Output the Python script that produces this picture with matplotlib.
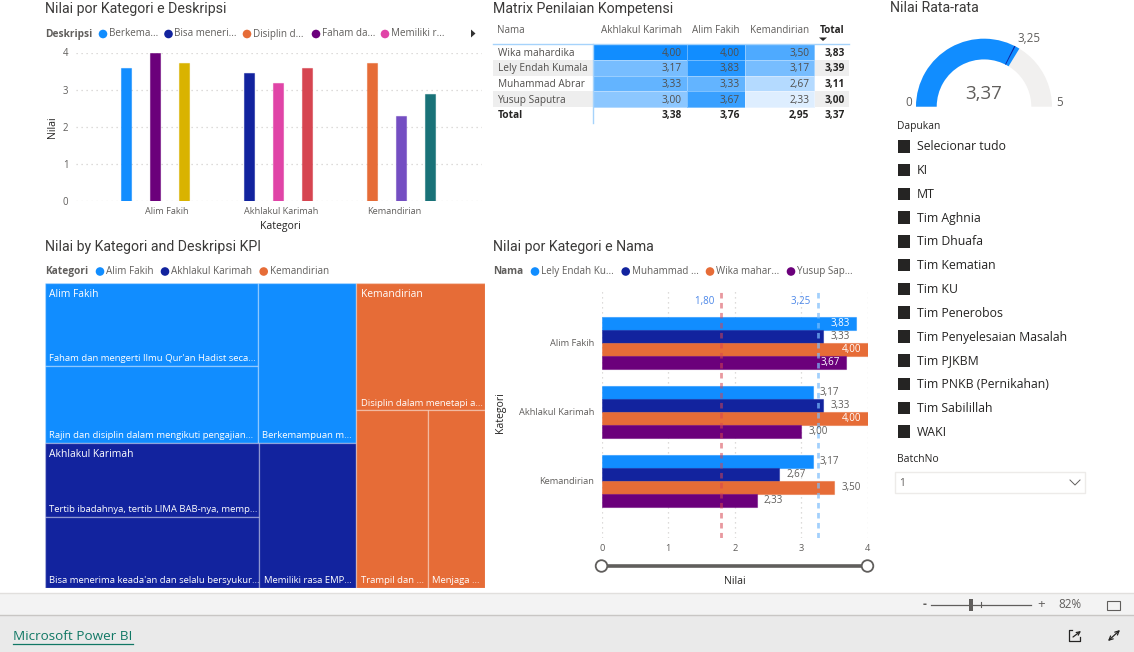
#! /usr/bin/env python3

import matplotlib
matplotlib.use("Agg")
import matplotlib.pyplot as plt
from matplotlib.colors import LinearSegmentedColormap, Normalize, to_rgba
from matplotlib.patches import Circle, Rectangle, Wedge

W, H = 1134, 652

BLUE, NAVY, ORANGE, PURPLE = "#118DFF", "#12239E", "#E66C37", "#6B007B"
DARK, GREY = "#252423", "#605E5C"

# first chart, one series per description inside each category
kategori = ["Alim Fakih", "Akhlakul Karimah", "Kemandirian"]
nilai_alim = [3.58, 4.00, 3.72]
nilai_akhlak = [3.44, 3.17, 3.58]
nilai_kemandirian = [3.72, 2.30, 2.87]
warna_alim = [BLUE, PURPLE, "#D9B300"]
warna_akhlak = [NAVY, "#E044A7", "#D64550"]
warna_kemandirian = [ORANGE, "#744EC2", "#197278"]
legend_deskripsi = ["Berkema...", "Bisa meneri...", "Disiplin d...", "Faham da...", "Memiliki r..."]
warna_legend = [BLUE, NAVY, ORANGE, PURPLE, "#E044A7"]

# matrix
nama_matrix = ["Wika mahardika", "Lely Endah Kumala", "Muhammad Abrar", "Yusup Saputra"]
kolom_matrix = ["Akhlakul Karimah", "Alim Fakih", "Kemandirian"]
nilai_matrix = [[4.00, 4.00, 3.50],
                [3.17, 3.83, 3.17],
                [3.33, 3.33, 2.67],
                [3.00, 3.67, 2.33]]
total_baris = [3.83, 3.39, 3.11, 3.00]
total_kolom = [3.38, 3.76, 2.95, 3.37]

# gauge
gauge_nilai = 3.37
gauge_target = 3.25
gauge_max = 5

# slicers
dapukan = ["Selecionar tudo", "KI", "MT", "Tim Aghnia", "Tim Dhuafa", "Tim Kematian", "Tim KU",
           "Tim Penerobos", "Tim Penyelesaian Masalah", "Tim PJKBM", "Tim PNKB (Pernikahan)",
           "Tim Sabilillah", "WAKI"]

# treemap tiles: (left column top, left column bottom, right column)
tile_alim = [4.00, 3.72, 3.58]
label_alim = ["Faham dan mengerti Ilmu Qur'an Hadist seca...",
              "Rajin dan disiplin dalam mengikuti pengajian...", "Berkemampuan m..."]
tile_akhlak = [3.58, 3.44, 3.17]
label_akhlak = ["Tertib ibadahnya, tertib LIMA BAB-nya, memp...",
                "Bisa menerima keada'an dan selalu bersyukur...", "Memiliki rasa EMP..."]
tile_kemandirian = [3.72, 2.87, 2.30]
label_kemandirian = ["Disiplin dalam menetapi a...", "Trampil dan ...", "Menjaga ..."]

# clustered bars by person
nama_bar = ["Lely Endah Ku...", "Muhammad ...", "Wika mahar...", "Yusup Sap..."]
warna_bar = [BLUE, NAVY, ORANGE, PURPLE]
bar_lely = [3.83, 3.17, 3.17]
bar_abrar = [3.33, 3.33, 2.67]
bar_wika = [4.00, 4.00, 3.50]
bar_yusup = [3.67, 3.00, 2.33]
ref_merah = 1.80
ref_biru = 3.25

plt.rcParams["font.family"] = ["Open Sans", "DejaVu Sans"]


def koma(v):
    return f"{v:.2f}".replace(".", ",")


def px_axes(x0, y0, x1, y1):
    ax = fig.add_axes([x0 / W, 1 - y1 / H, (x1 - x0) / W, (y1 - y0) / H])
    ax.patch.set_alpha(0)
    for s in ax.spines.values():
        s.set_visible(False)
    return ax


def judul(x, y, s):
    bg.text(x, y, s, fontsize=10.2, color="#3B3A39", family="Roboto", va="center")


def legenda(x, y, head, dots, teks, warna):
    bg.text(x, y, head, fontsize=7.3, fontweight="bold", color=GREY, va="center")
    for d, t, c in zip(dots, teks, warna):
        bg.add_patch(Circle((d, y), 4.3, color=c, lw=0))
        bg.text(d + 6, y, t, fontsize=7.1, color=GREY, va="center")


fig = plt.figure(figsize=(W / 100, H / 100), dpi=100)
bg = fig.add_axes([0, 0, 1, 1])
bg.set_xlim(0, W)
bg.set_ylim(H, 0)
bg.axis("off")

judul(45, 8.5, "Nilai por Kategori e Deskripsi")
judul(493, 8.5, "Matrix Penilaian Kompetensi")
judul(890, 8.5, "Nilai Rata-rata")
judul(45, 246.5, "Nilai by Kategori and Deskripsi KPI")
judul(493, 246.5, "Nilai por Kategori e Nama")

legenda(45, 34, "Deskripsi", [103, 168.5, 247, 316, 385], legend_deskripsi, warna_legend)
bg.fill([471, 471, 475.5], [29.5, 37.5, 33.5], color="#333333", lw=0)
legenda(45, 271.5, "Kategori", [100, 165, 263.7], kategori, warna_bar)
legenda(493, 271.5, "Nama", [535, 625.7, 710, 791], nama_bar, warna_bar)

# top-left clustered column chart
ax1 = px_axes(76, 52.5, 482, 201)
ax1.set_xlim((76 - 155) / 123, (482 - 155) / 123)
ax1.set_ylim(0, 4)
for i, (vals, cols) in enumerate(zip([nilai_alim, nilai_akhlak, nilai_kemandirian],
                                     [warna_alim, warna_akhlak, warna_kemandirian])):
    for j, (v, c) in enumerate(zip(vals, cols)):
        ax1.bar(i + (j - 1) * 0.2345, v, width=0.08, color=c, zorder=3,
                edgecolor=to_rgba(c, 0.55), linewidth=0.8)
ax1.set_yticks([0, 1, 2, 3, 4])
ax1.set_xticks([0.098, 1.024, 1.943], kategori)
ax1.tick_params(length=0, labelsize=6.6, labelcolor=GREY)
ax1.tick_params(axis="y", pad=5.5, labelsize=6.9)
ax1.tick_params(axis="x", pad=4.5)
ax1.yaxis.grid(True, color="#D2D0CE", linestyle=(0, (1, 3)), linewidth=0.9)
ax1.set_axisbelow(True)
bg.text(52, 127, "Nilai", rotation=90, fontsize=7.6, color=DARK, ha="center", va="center")
bg.text(280, 226.5, "Kategori", fontsize=7.6, color=DARK, ha="center", va="center")

# matrix
x_edges = [593, 686.5, 744.5, 814]
y_edges = [43.7, 60, 75.5, 91.3, 106.7]
for r in [1, 3]:
    bg.add_patch(Rectangle((493, y_edges[r]), 356, y_edges[r + 1] - y_edges[r], color="#EEEEEE", lw=0))
peta = LinearSegmentedColormap.from_list("biru", ["#DEEEFF", BLUE])
bg.pcolormesh(x_edges, y_edges, nilai_matrix, cmap=peta, norm=Normalize(2.33, 4.0),
              edgecolors=(1, 1, 1, 0.35), linewidth=0.5)
bg.plot([493, 849], [43.5, 43.5], color="#A6D3FB", lw=1)
bg.plot([593, 593], [43.5, 122.5], color="#A6D3FB", lw=1)
bg.text(497.5, 30.5, "Nama", fontsize=7.1, color=GREY, va="center")
kanan = [682, 740, 809.5]
for x, t in zip(kanan, kolom_matrix):
    bg.text(x, 30.5, t, fontsize=7.1, color=GREY, ha="right", va="center")
bg.text(844.5, 30.5, "Total", fontsize=7.1, color=DARK, fontweight="bold", ha="right", va="center")
bg.fill([819, 827, 823], [37.5, 37.5, 41], color=DARK, lw=0)
y_baris = [53.5, 69, 84.5, 100.5]
for i, (nama, vals) in enumerate(zip(nama_matrix, nilai_matrix)):
    bg.text(497.5, y_baris[i], nama, fontsize=7.3, color="#504E4C", va="center")
    for x, v in zip(kanan, vals):
        bg.text(x, y_baris[i], koma(v), fontsize=7.3, color="#504E4C", ha="right", va="center")
    bg.text(845, y_baris[i], koma(total_baris[i]), fontsize=7.3, color=DARK, fontweight="bold",
            ha="right", va="center")
bg.text(497.5, 115.5, "Total", fontsize=7.3, color=DARK, fontweight="bold", va="center")
for x, v in zip(kanan + [845], total_kolom):
    bg.text(x, 115.5, koma(v), fontsize=7.3, color=DARK, fontweight="bold", ha="right", va="center")

# gauge
cx, cy = 984, 106.7
bg.add_patch(Wedge((cx, cy), 68, 180, 360, width=20.7, color="#F1F0EF", lw=0))
bg.add_patch(Wedge((cx, cy), 68, 180, 180 + gauge_nilai / gauge_max * 180, width=20.7, color=BLUE, lw=0))
a = 180 + gauge_target / gauge_max * 180
bg.add_patch(Wedge((cx, cy), 68, a - 0.5, a + 0.5, width=20.7, color=NAVY, lw=0))
bg.text(cx, 94, koma(gauge_nilai), fontsize=13.5, color=GREY, ha="center", va="center")
bg.text(908.5, 102.5, "0", fontsize=8.4, color=GREY, ha="center", va="center")
bg.text(1059.5, 102.5, "5", fontsize=8.4, color=GREY, ha="center", va="center")
bg.text(1029, 39, koma(gauge_target), fontsize=8.4, color=GREY, ha="center", va="center")

# slicers
bg.text(897, 127, "Dapukan", fontsize=7.4, color=DARK, va="center")
for i, t in enumerate(dapukan):
    y = 146.5 + i * 23.78
    bg.add_patch(Rectangle((897.5, y - 6.5), 12.5, 12.5, color=DARK, lw=0))
    bg.text(917, y + 0.3, t, fontsize=8.8, color=DARK, va="center")
bg.text(897, 459.5, "BatchNo", fontsize=7.5, color=DARK, va="center")
bg.add_patch(Rectangle((894.5, 472), 190, 21, fill=False, edgecolor="#EDEBE9", lw=1))
bg.text(899, 483, "1", fontsize=7.4, color=GREY, va="center")
bg.plot([1070, 1075, 1080], [480, 485, 480], color=GREY, lw=0.7)

# treemap
ax3 = px_axes(45, 282.5, 485, 588)
ax3.set_xlim(0, 1)
ax3.set_ylim(1, 0)
ax3.set_xticks([])
ax3.set_yticks([])


def tile(x, y, w, h, warna, label):
    ax3.add_patch(Rectangle((x, y), w, h, facecolor=warna, edgecolor=to_rgba("white", 0.3), linewidth=1))
    ax3.annotate(label, (x, y + h), xytext=(3.1, 2), textcoords="offset points",
                 fontsize=6.8, color="white", va="bottom")


def blok(x, y, w, h, vals, warna, labels):
    # left column holds two stacked tiles, right column one
    tot = sum(vals)
    w_kiri = w * (vals[0] + vals[1]) / tot
    h_atas = h * vals[0] / (vals[0] + vals[1])
    tile(x, y, w_kiri, h_atas, warna, labels[0])
    tile(x, y + h_atas, w_kiri, h - h_atas, warna, labels[1])
    tile(x + w_kiri, y, w - w_kiri, h, warna, labels[2])


s_alim, s_akhlak, s_kem = sum(tile_alim), sum(tile_akhlak), sum(tile_kemandirian)
lebar = (s_alim + s_akhlak) / (s_alim + s_akhlak + s_kem)
tinggi = s_alim / (s_alim + s_akhlak)
blok(0, 0, lebar, tinggi, tile_alim, BLUE, label_alim)
blok(0, tinggi, lebar, 1 - tinggi, tile_akhlak, NAVY, label_akhlak)
# Kemandirian splits the other way: one tile on top, two side by side under it
h_kem = tile_kemandirian[0] / s_kem
tile(lebar, 0, 1 - lebar, h_kem, ORANGE, label_kemandirian[0])
w_kem = (1 - lebar) * tile_kemandirian[1] / (tile_kemandirian[1] + tile_kemandirian[2])
tile(lebar, h_kem, w_kem, 1 - h_kem, ORANGE, label_kemandirian[1])
tile(lebar + w_kem, h_kem, 1 - lebar - w_kem, 1 - h_kem, ORANGE, label_kemandirian[2])
for lbl, yy in [(kategori[0], 0), (kategori[1], tinggi), (kategori[2], 0)]:
    xx = lebar if lbl == kategori[2] else 0
    ax3.annotate(lbl, (xx, yy), xytext=(3.1, -8.5), textcoords="offset points",
                 fontsize=7.4, color="white", va="center")

# clustered bars
ax4 = px_axes(601.7, 290, 867.7, 538)
ax4.set_xlim(0, 4)
ax4.set_ylim((538 - 342.7) / 69, (290 - 342.7) / 69)
tinggi_bar = 13 / 69
for j, (vals, c) in enumerate(zip([bar_lely, bar_abrar, bar_wika, bar_yusup], warna_bar)):
    for i, v in enumerate(vals):
        y = i + (j - 1.5) * tinggi_bar
        ax4.barh(y, v, height=tinggi_bar, color=c, zorder=2, edgecolor=to_rgba(c, 0.5), linewidth=0.8)
        if v > 3.6:
            ax4.annotate(koma(v), (v, y), xytext=(-4.3, 0), textcoords="offset points", ha="right",
                         va="center", fontsize=7.1, color="white", zorder=5)
        else:
            ax4.annotate(koma(v), (v, y), xytext=(5, 0), textcoords="offset points", ha="left",
                         va="center", fontsize=7.1, color=GREY, zorder=5)
ax4.axvline(ref_merah, color="#D64550", alpha=0.55, linestyle=(0, (2, 1.6)), linewidth=2, zorder=4)
ax4.axvline(ref_biru, color="#7CBDFB", alpha=0.7, linestyle=(0, (2, 1.6)), linewidth=2, zorder=4)
for ref in [ref_merah, ref_biru]:
    ax4.text(ref, -0.6, koma(ref) + "   ", fontsize=7.0, color="#4A86E8", ha="right", va="center")
ax4.set_xticks([0, 1, 2, 3, 4])
ax4.set_yticks([0, 1, 2], kategori)
ax4.tick_params(length=0, labelsize=6.7, labelcolor=GREY)
ax4.tick_params(axis="y", pad=5.5)
ax4.tick_params(axis="x", pad=4)
ax4.xaxis.grid(True, color="#D2D0CE", linestyle=(0, (1, 3)), linewidth=0.9, zorder=0)
ax4.set_axisbelow(True)
bg.text(500.5, 413, "Kategori", rotation=90, fontsize=7.6, color=DARK, ha="center", va="center")
bg.text(735, 582, "Nilai", fontsize=7.6, color=DARK, ha="center", va="center")
bg.plot([601.5, 867.5], [566, 566], color=GREY, lw=2.6, zorder=2)
for x in [601.5, 867.5]:
    bg.add_patch(Circle((x, 566), 5.8, facecolor="white", edgecolor=GREY, lw=1.3, zorder=3))

# report footer
bg.add_patch(Rectangle((0, 592.5), W, 23, color="#F3F3F3", lw=0))
bg.add_patch(Rectangle((0, 615), W, 37, color="#EAEAEA", lw=0))
bg.plot([0, W], [592.5, 592.5], color="#E1DFDD", lw=1)
bg.plot([0, W], [615, 615], color="#C8C6C4", lw=1)
bg.text(13, 636.5, "Microsoft Power BI", fontsize=9.7, color="#117865", va="center")
bg.plot([13, 133], [643.5, 643.5], color="#117865", lw=0.9)
bg.text(924.5, 604.5, "-", fontsize=8.5, color=GREY, ha="center", va="center", fontweight="bold")
bg.plot([931, 1031], [604.5, 604.5], color=GREY, lw=0.9)
bg.add_patch(Rectangle((969, 598.5), 4, 12, color=GREY, lw=0))
bg.plot([981, 981], [602, 607], color=GREY, lw=0.8)
bg.text(1041, 604.5, "+", fontsize=9.5, color=GREY, ha="center", va="center")
bg.text(1069.5, 605, "82%", fontsize=8.4, color=GREY, ha="center", va="center")
bg.add_patch(Rectangle((1106.5, 600.5), 13, 9, fill=False, edgecolor=GREY, lw=0.8))
bg.plot([1072, 1069, 1069, 1080, 1080], [630, 630, 640.5, 640.5, 637], color=DARK, lw=0.9)
bg.annotate("", (1081, 631), (1073, 637), arrowprops=dict(arrowstyle="->", color=DARK, lw=0.9,
                                                          mutation_scale=6, shrinkA=0, shrinkB=0))
bg.annotate("", (1120, 630), (1108, 641), arrowprops=dict(arrowstyle="<->", color=DARK, lw=0.9,
                                                          mutation_scale=7, shrinkA=0, shrinkB=0))

fig.savefig("out.png", dpi=100)
